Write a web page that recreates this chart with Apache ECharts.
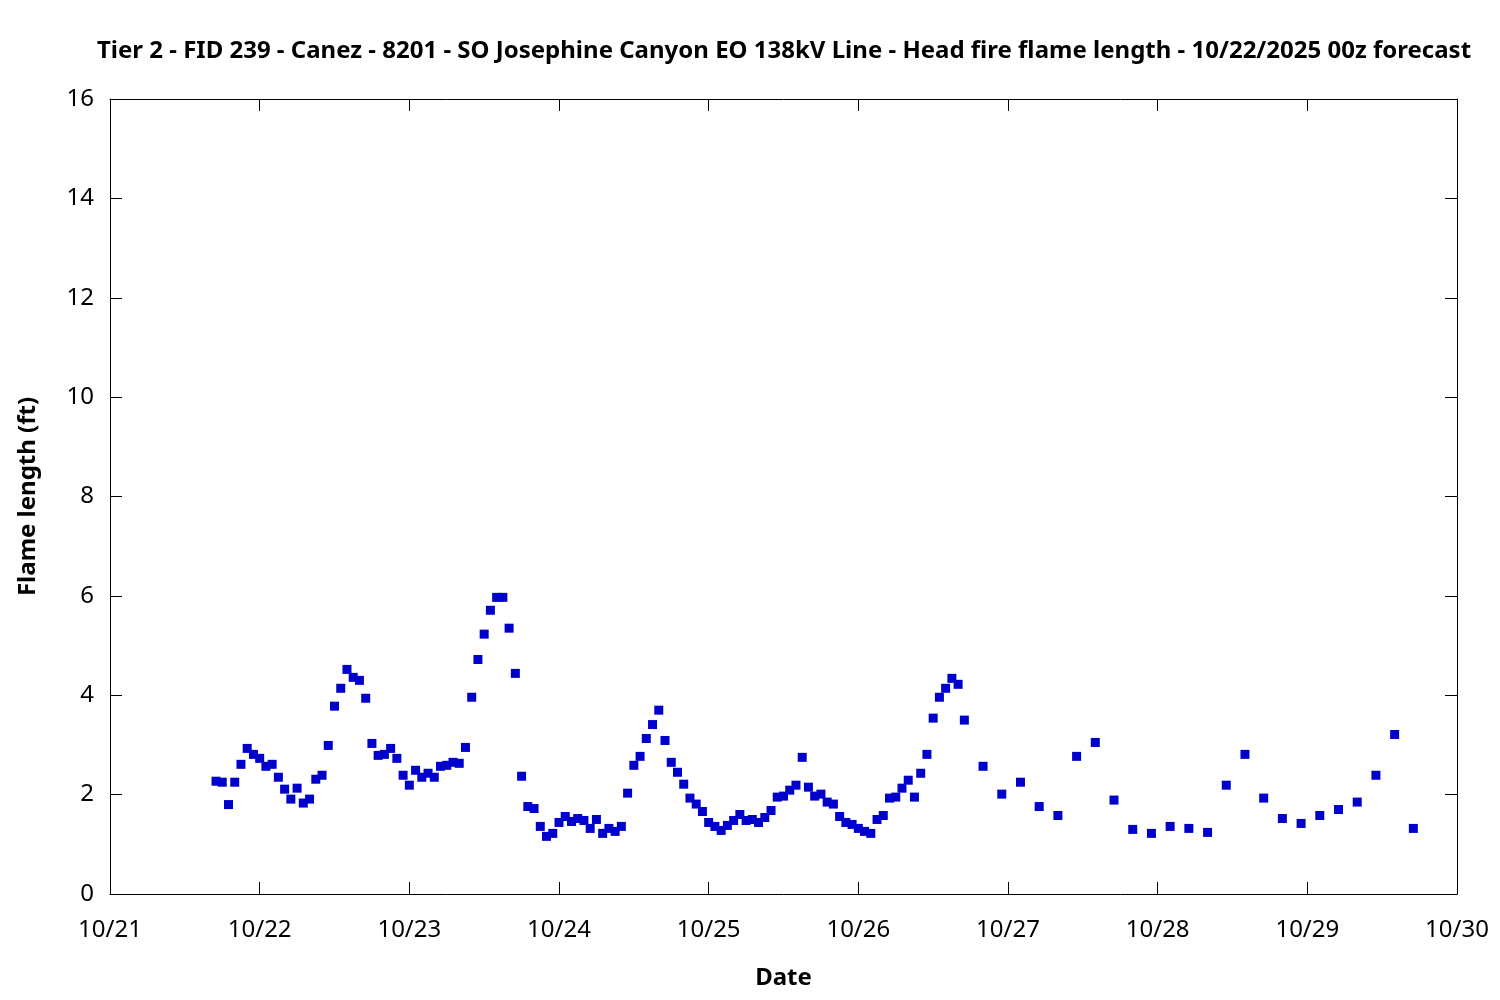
<!DOCTYPE html>
<html>
<head>
<meta charset="utf-8">
<script src="https://cdn.jsdelivr.net/npm/echarts@6/dist/echarts.min.js"></script>
<style>
  html, body { margin: 0; padding: 0; background: #ffffff; }
  #chart { width: 1500px; height: 1000px; }
</style>
</head>
<body>
<div id="chart"></div>
<script>
// Tick labels for the date axis (one per day, 10/21 .. 10/30)
const tickLabels = ["10/21", "10/22", "10/23", "10/24", "10/25", "10/26", "10/27", "10/28", "10/29", "10/30"];

// Hourly forecast: starts 10/21 17:00 (hours since 10/21 00:00)
const hourlyStartHour = 17;
const hourlyValues = [
  2.27, 2.25, 1.80, 2.25, 2.61, 2.93, 2.81, 2.73, 2.57, 2.61, 2.35, 2.11, 1.91, 2.13, 1.83, 1.91,
  2.31, 2.39, 2.99, 3.78, 4.14, 4.52, 4.36, 4.30, 3.94, 3.03, 2.79, 2.81, 2.93, 2.73, 2.39, 2.19,
  2.49, 2.35, 2.43, 2.35, 2.57, 2.59, 2.65, 2.63, 2.95, 3.96, 4.72, 5.23, 5.71, 5.97, 5.97, 5.35,
  4.44, 2.37, 1.76, 1.72, 1.36, 1.16, 1.22, 1.44, 1.56, 1.46, 1.52, 1.48, 1.32, 1.50, 1.22, 1.32,
  1.26, 1.36, 2.03, 2.59, 2.77, 3.13, 3.41, 3.70, 3.09, 2.65, 2.45, 2.21, 1.93, 1.81, 1.66, 1.44,
  1.36, 1.28, 1.38, 1.48, 1.60, 1.48, 1.50, 1.44, 1.54, 1.68, 1.95, 1.97, 2.09, 2.19, 2.75, 2.15,
  1.97, 2.01, 1.85, 1.81, 1.56, 1.44, 1.40, 1.32, 1.26, 1.22, 1.50, 1.58, 1.93, 1.95, 2.13, 2.29,
  1.95, 2.43, 2.81, 3.54, 3.96, 4.14, 4.34, 4.22, 3.50
];

// 3-hourly forecast: starts 10/26 20:00
const threeHourlyStartHour = 140;
const threeHourlyValues = [
  2.57, 2.01, 2.25, 1.76, 1.58, 2.77, 3.05, 1.89, 1.30, 1.22, 1.36, 1.32,
  1.24, 2.19, 2.81, 1.93, 1.52, 1.42, 1.58, 1.70, 1.85, 2.39, 3.21, 1.32
];

const titleText = "Tier 2 - FID 239 - Canez - 8201 - SO Josephine Canyon EO 138kV Line - Head fire flame length - 10/22/2025 00z forecast";

const points = [];
hourlyValues.forEach((v, i) => points.push([hourlyStartHour + i, v]));
threeHourlyValues.forEach((v, i) => points.push([threeHourlyStartHour + 3 * i, v]));

const FONT = "Noto Sans";
const chart = echarts.init(document.getElementById('chart'), null, { renderer: 'canvas' });

const axisLineStyle = { show: true, onZero: false, lineStyle: { color: '#000', width: 1 } };
const tickStyle = { show: true, inside: true, length: 12, lineStyle: { color: '#000', width: 1 } };

chart.setOption({
  animation: false,
  backgroundColor: '#ffffff',
  title: {
    text: titleText,
    left: 779,
    top: 34,
    textAlign: 'center',
    textStyle: { fontFamily: FONT, fontSize: 24, fontWeight: 'bold', color: '#000' }
  },
  grid: { left: 110, right: 43, top: 99, bottom: 106, containLabel: false },
  xAxis: [
    {
      type: 'value', min: 0, max: 216, interval: 24, position: 'bottom',
      name: 'Date', nameLocation: 'middle', nameGap: 72,
      nameTextStyle: { fontFamily: FONT, fontSize: 24, fontWeight: 'bold', color: '#000' },
      axisLine: axisLineStyle, axisTick: tickStyle,
      axisLabel: {
        fontFamily: FONT, fontSize: 24, color: '#000', margin: 24,
        formatter: (v) => tickLabels[Math.round(v / 24)]
      },
      splitLine: { show: false }
    },
    {
      type: 'value', min: 0, max: 216, interval: 24, position: 'top',
      axisLine: axisLineStyle, axisTick: tickStyle,
      axisLabel: { show: false }, splitLine: { show: false }
    }
  ],
  yAxis: [
    {
      type: 'value', min: 0, max: 16, interval: 2, position: 'left',
      name: 'Flame length (ft)', nameLocation: 'middle', nameGap: 70, nameRotate: 90,
      nameTextStyle: { fontFamily: FONT, fontSize: 24, fontWeight: 'bold', color: '#000' },
      axisLine: axisLineStyle, axisTick: tickStyle,
      axisLabel: { fontFamily: FONT, fontSize: 24, color: '#000', margin: 16 },
      splitLine: { show: false }
    },
    {
      type: 'value', min: 0, max: 16, interval: 2, position: 'right',
      axisLine: axisLineStyle, axisTick: tickStyle,
      axisLabel: { show: false }, splitLine: { show: false }
    }
  ],
  series: [
    {
      type: 'scatter',
      xAxisIndex: 0, yAxisIndex: 0,
      data: points,
      symbol: 'rect',
      symbolSize: 9,
      itemStyle: { color: '#0000CC', opacity: 1 }
    }
  ]
});
</script>
</body>
</html>
